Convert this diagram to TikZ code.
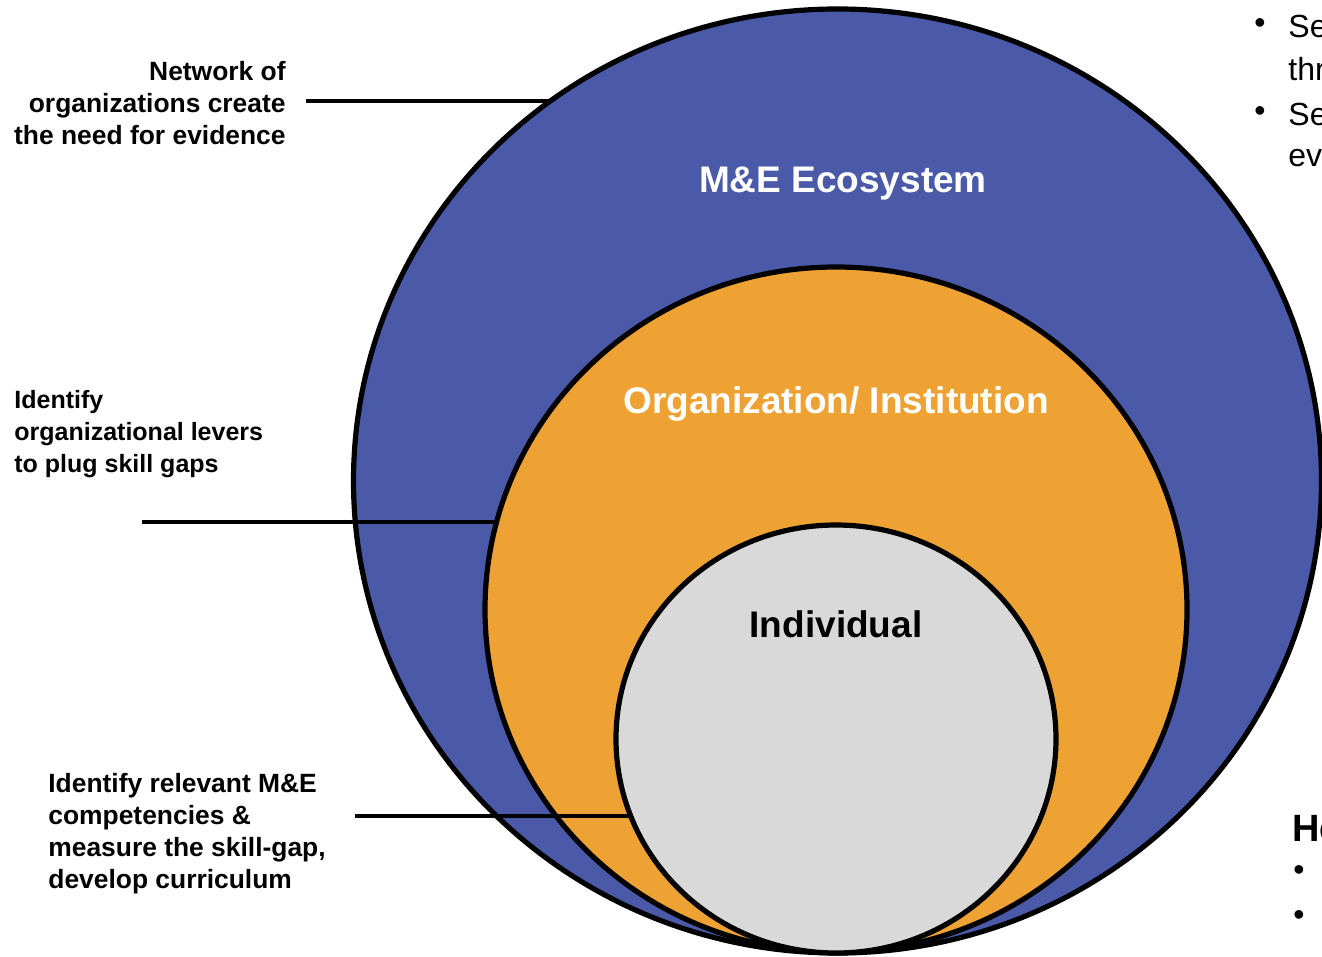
\documentclass[tikz,border=0pt]{standalone}
\usepackage{fontspec}
\setmainfont{Liberation Sans}
\usepackage{xcolor}
\usepackage{tikz}
\usetikzlibrary{shapes.geometric}

\definecolor{ecoblue}{HTML}{4A5AA8}
\definecolor{orgorange}{HTML}{EDA233}
\definecolor{indgray}{HTML}{D9D9D9}

\begin{document}
\begin{tikzpicture}[x=0.5pt, y=-0.5pt,
        ring/.style={ellipse, draw, line width=2.6pt, inner sep=0pt, outer sep=0pt},
        ringtitle/.style={font=\fontsize{18.5pt}{22pt}\selectfont\bfseries},
        note/.style={font=\fontsize{13.2pt}{16pt}\selectfont\bfseries, inner sep=0pt},
        edgetext/.style={font=\fontsize{16pt}{22pt}\selectfont, anchor=west, inner sep=0pt},
        pointer/.style={line width=1.8pt}]
        \useasboundingbox (0,0) rectangle (1322,957);
        \clip (0,0) rectangle (1322,957);

        % circles: ecosystem, organization, individual
        \node[ring, fill=ecoblue, minimum width=484pt, minimum height=472pt] (eco) at (837.5,481) {};
        \node[ring, fill=orgorange, minimum width=351pt, minimum height=342.5pt] (org) at (836,609.5) {};
        \node[ring, fill=indgray, minimum width=220pt, minimum height=214pt] (ind) at (836,739) {};

        \node[ringtitle, text=white] (eco-title) at (843,184) {M\&E Ecosystem};
        \node[ringtitle, text=white] (org-title) at (836,404) {Organization/ Institution};
        \node[ringtitle] (ind-title) at (836,624) {Individual};

        % notes on the left
        \node[note, align=right, anchor=east] (note1) at (286,103)
            {Network of\\organizations create\\the need for evidence};
        \node[note, align=left, anchor=west, font=\fontsize{12.5pt}{16pt}\selectfont\bfseries] (note2) at (14,434)
            {Identify\\organizational levers\\to plug skill gaps};
        \node[note, align=left, anchor=west] (note3) at (48,834)
            {Identify relevant M\&E\\competencies \&\\measure the skill-gap,\\develop curriculum};

        % pointers
        \coordinate (p1) at (306,101);
        \coordinate (p2) at (142,522);
        \coordinate (p3) at (355,816);
        \draw[pointer] (p1) -- (p1 -| eco.127);
        \draw[pointer] (p2) -- (p2 -| org.166);
        \draw[pointer] (p3) -- (p3 -| ind.201);

        % text cut off at the right edge
        \node[edgetext] (b1) at (1254,26) {•};
        \node[edgetext] (t1) at (1288,26) {Se};
        \node[edgetext] (t2) at (1288,69) {thr};
        \node[edgetext] (b2) at (1254,114) {•};
        \node[edgetext] (t3) at (1288,114) {Se};
        \node[edgetext] (t4) at (1288,158) {ev};
        \node[edgetext, font=\fontsize{19pt}{22pt}\selectfont\bfseries] (t5) at (1292,829) {He};
        \foreach \y/\n in {873/b3, 918/b4} {
            \node[edgetext] (\n) at (1293,\y) {•};
        }
\end{tikzpicture}
\end{document}
